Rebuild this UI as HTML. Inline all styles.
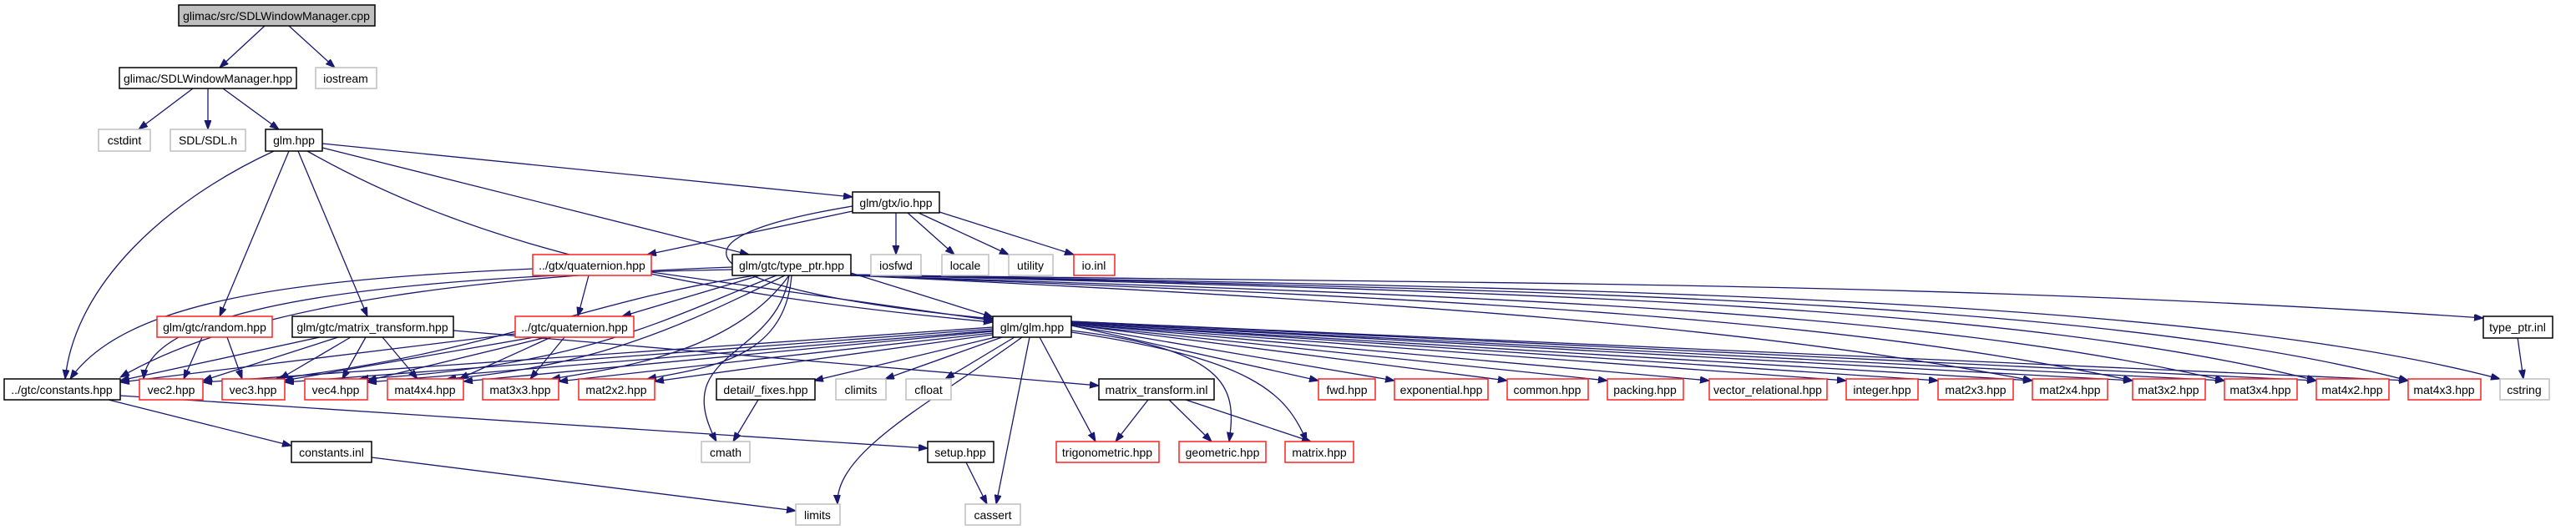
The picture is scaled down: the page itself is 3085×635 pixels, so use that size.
<!DOCTYPE html>
<html><head><meta charset="utf-8"><style>
html,body{margin:0;padding:0;background:#fff;}
svg{display:block;}
text{font-family:"Liberation Sans",Arial,sans-serif;font-size:14px;fill:#000;text-anchor:middle;}
.e{fill:none;stroke:#191970;stroke-width:1.3;marker-end:url(#a);}
.k{fill:#fff;stroke:#000;stroke-width:1.5;}
.r{fill:#fff;stroke:#ff2020;stroke-width:1.5;}
.g{fill:#fff;stroke:#bfbfbf;stroke-width:1.5;}
</style></head><body>
<svg width="3085" height="635" viewBox="0 0 3085 635" xmlns="http://www.w3.org/2000/svg">
<defs><marker id="a" markerUnits="userSpaceOnUse" markerWidth="12" markerHeight="9" refX="11" refY="4" orient="auto"><path d="M0,0 L11,4 L0,8 z" fill="#191970" stroke="#191970"/></marker></defs>
<g>
<path class="e" d="M317,31 L263,81"/>
<path class="e" d="M346,31 L401,81"/>
<path class="e" d="M231,106 L166,155"/>
<path class="e" d="M249,106 L249,155"/>
<path class="e" d="M267,106 L334,155"/>
<path class="e" d="M328,181 C200,240 90,340 78,454"/>
<path class="e" d="M346,181 L263,379"/>
<path class="e" d="M357,181 L440,379"/>
<path class="e" d="M368,181 C560,290 800,350 1189,386"/>
<path class="e" d="M386,172 L1021,236"/>
<path class="e" d="M386,177 L897,305"/>
<path class="e" d="M1021,247 C760,290 850,350 1189,382"/>
<path class="e" d="M1021,253 L775,305"/>
<path class="e" d="M1073,255 L1073,305"/>
<path class="e" d="M1087,255 L1143,305"/>
<path class="e" d="M1100,255 L1208,305"/>
<path class="e" d="M1125,254 L1286,305"/>
<path class="e" d="M705,330 L692,379"/>
<path class="e" d="M638,322 C350,335 150,360 84,454"/>
<path class="e" d="M780,326 L1189,384"/>
<path class="e" d="M877,323 C500,330 180,360 172,454"/>
<path class="e" d="M877,320 C600,330 300,360 144,452"/>
<path class="e" d="M910,330 L745,379"/>
<path class="e" d="M905,330 C700,360 600,420 330,454"/>
<path class="e" d="M930,330 C800,380 700,440 430,454"/>
<path class="e" d="M940,330 C800,400 700,440 535,454"/>
<path class="e" d="M945,330 C880,420 750,440 660,454"/>
<path class="e" d="M948,330 C940,430 850,440 775,454"/>
<path class="e" d="M945,330 C930,430 800,420 858,529"/>
<path class="e" d="M1019,329 C1700,340 2300,335 2974,381"/>
<path class="e" d="M1019,329 C1800,345 2600,350 2994,454"/>
<path class="e" d="M1019,329 C1800,348 2500,355 2884,456"/>
<path class="e" d="M1019,329 C1800,350 2400,362 2774,456"/>
<path class="e" d="M1019,330 C1800,355 2300,372 2664,456"/>
<path class="e" d="M1019,330 C1800,360 2200,382 2554,456"/>
<path class="e" d="M1019,330 C1700,362 2100,392 2434,456"/>
<path class="e" d="M1019,327 L1189,380"/>
<path class="e" d="M242,404 L220,454"/>
<path class="e" d="M272,404 L290,454"/>
<path class="e" d="M383,404 L144,456"/>
<path class="e" d="M405,404 L243,456"/>
<path class="e" d="M420,404 L335,454"/>
<path class="e" d="M438,404 L410,454"/>
<path class="e" d="M458,404 L500,454"/>
<path class="e" d="M543,396 L1316,462"/>
<path class="e" d="M617,400 L144,458"/>
<path class="e" d="M640,404 L340,456"/>
<path class="e" d="M655,404 L440,456"/>
<path class="e" d="M660,404 L550,454"/>
<path class="e" d="M676,404 L635,454"/>
<path class="e" d="M1189,392 L243,458"/>
<path class="e" d="M1189,394 L341,458"/>
<path class="e" d="M1189,396 L440,458"/>
<path class="e" d="M1189,397 L555,457"/>
<path class="e" d="M1189,399 L669,457"/>
<path class="e" d="M1189,401 L784,457"/>
<path class="e" d="M1192,404 L975,456"/>
<path class="e" d="M1200,404 L1060,454"/>
<path class="e" d="M1215,404 L1132,454"/>
<path class="e" d="M1224,404 C1120,480 1000,540 1003,604"/>
<path class="e" d="M1233,404 L1193,604"/>
<path class="e" d="M1245,404 L1312,529"/>
<path class="e" d="M1283,396 C1480,420 1480,470 1472,529"/>
<path class="e" d="M1283,398 C1500,430 1540,470 1565,529"/>
<path class="e" d="M1283,390 L1579,456"/>
<path class="e" d="M1283,390 L1670,456"/>
<path class="e" d="M1283,389 L1805,456"/>
<path class="e" d="M1283,389 L1925,456"/>
<path class="e" d="M1283,388 L2047,456"/>
<path class="e" d="M1283,388 L2211,456"/>
<path class="e" d="M1283,387 L2321,456"/>
<path class="e" d="M1283,387 L2434,456"/>
<path class="e" d="M1283,386 L2554,456"/>
<path class="e" d="M1283,386 L2664,456"/>
<path class="e" d="M1283,385 L2774,456"/>
<path class="e" d="M1283,385 L2884,456"/>
<path class="e" d="M130,479 L349,534"/>
<path class="e" d="M144,474 L1111,537"/>
<path class="e" d="M445,548 L953,612"/>
<path class="e" d="M908,479 L878,529"/>
<path class="e" d="M1157,554 L1182,604"/>
<path class="e" d="M1375,479 L1336,529"/>
<path class="e" d="M1400,479 L1451,529"/>
<path class="e" d="M1420,479 L1570,529"/>
<path class="e" d="M3015,404 L3022,454"/>
</g>
<g>
<rect x="214" y="6" width="235" height="25" fill="#bfbfbf" stroke="#000" stroke-width="1.5"/><text x="331" y="24">glimac/src/SDLWindowManager.cpp</text>
<rect class="k" x="143" y="81" width="212" height="25"/><text x="249" y="99">glimac/SDLWindowManager.hpp</text>
<rect class="g" x="378" y="81" width="73" height="25"/><text x="414" y="99">iostream</text>
<rect class="g" x="118" y="155" width="62" height="26"/><text x="149" y="173">cstdint</text>
<rect class="g" x="204" y="155" width="90" height="26"/><text x="249" y="173">SDL/SDL.h</text>
<rect class="k" x="318" y="155" width="68" height="26"/><text x="352" y="173">glm.hpp</text>
<rect class="k" x="1021" y="230" width="104" height="25"/><text x="1073" y="248">glm/gtx/io.hpp</text>
<rect class="r" x="638" y="305" width="142" height="25"/><text x="709" y="323">../gtx/quaternion.hpp</text>
<rect class="k" x="877" y="305" width="142" height="25"/><text x="948" y="323">glm/gtc/type_ptr.hpp</text>
<rect class="g" x="1043" y="305" width="60" height="25"/><text x="1073" y="323">iosfwd</text>
<rect class="g" x="1128" y="305" width="56" height="25"/><text x="1156" y="323">locale</text>
<rect class="g" x="1208" y="305" width="53" height="25"/><text x="1234" y="323">utility</text>
<rect class="r" x="1286" y="305" width="49" height="25"/><text x="1310" y="323">io.inl</text>
<rect class="r" x="188" y="379" width="138" height="25"/><text x="257" y="397">glm/gtc/random.hpp</text>
<rect class="k" x="350" y="379" width="193" height="25"/><text x="446" y="397">glm/gtc/matrix_transform.hpp</text>
<rect class="r" x="617" y="379" width="142" height="25"/><text x="688" y="397">../gtc/quaternion.hpp</text>
<rect class="k" x="1189" y="379" width="94" height="25"/><text x="1236" y="397">glm/glm.hpp</text>
<rect class="k" x="2974" y="379" width="83" height="26"/><text x="3015" y="397">type_ptr.inl</text>
<rect class="k" x="5" y="454" width="139" height="25"/><text x="74" y="472">../gtc/constants.hpp</text>
<rect class="r" x="167" y="454" width="76" height="25"/><text x="205" y="472">vec2.hpp</text>
<rect class="r" x="266" y="454" width="75" height="25"/><text x="303" y="472">vec3.hpp</text>
<rect class="r" x="365" y="454" width="75" height="25"/><text x="402" y="472">vec4.hpp</text>
<rect class="r" x="464" y="454" width="91" height="25"/><text x="509" y="472">mat4x4.hpp</text>
<rect class="r" x="578" y="454" width="91" height="25"/><text x="623" y="472">mat3x3.hpp</text>
<rect class="r" x="693" y="454" width="91" height="25"/><text x="738" y="472">mat2x2.hpp</text>
<rect class="k" x="858" y="454" width="118" height="25"/><text x="917" y="472">detail/_fixes.hpp</text>
<rect class="g" x="1001" y="454" width="60" height="25"/><text x="1031" y="472">climits</text>
<rect class="g" x="1085" y="454" width="54" height="25"/><text x="1112" y="472">cfloat</text>
<rect class="k" x="1316" y="454" width="138" height="25"/><text x="1385" y="472">matrix_transform.inl</text>
<rect class="r" x="1579" y="454" width="68" height="25"/><text x="1613" y="472">fwd.hpp</text>
<rect class="r" x="1670" y="454" width="112" height="25"/><text x="1726" y="472">exponential.hpp</text>
<rect class="r" x="1805" y="454" width="97" height="25"/><text x="1853" y="472">common.hpp</text>
<rect class="r" x="1925" y="454" width="91" height="25"/><text x="1970" y="472">packing.hpp</text>
<rect class="r" x="2047" y="454" width="141" height="25"/><text x="2117" y="472">vector_relational.hpp</text>
<rect class="r" x="2211" y="454" width="86" height="25"/><text x="2254" y="472">integer.hpp</text>
<rect class="r" x="2321" y="454" width="90" height="25"/><text x="2366" y="472">mat2x3.hpp</text>
<rect class="r" x="2434" y="454" width="90" height="25"/><text x="2479" y="472">mat2x4.hpp</text>
<rect class="r" x="2554" y="454" width="87" height="25"/><text x="2597" y="472">mat3x2.hpp</text>
<rect class="r" x="2664" y="454" width="87" height="25"/><text x="2707" y="472">mat3x4.hpp</text>
<rect class="r" x="2774" y="454" width="87" height="25"/><text x="2817" y="472">mat4x2.hpp</text>
<rect class="r" x="2884" y="454" width="87" height="25"/><text x="2927" y="472">mat4x3.hpp</text>
<rect class="g" x="2994" y="454" width="59" height="25"/><text x="3023" y="472">cstring</text>
<rect class="k" x="349" y="529" width="96" height="25"/><text x="397" y="547">constants.inl</text>
<rect class="g" x="840" y="529" width="58" height="25"/><text x="869" y="547">cmath</text>
<rect class="k" x="1111" y="529" width="79" height="25"/><text x="1150" y="547">setup.hpp</text>
<rect class="r" x="1265" y="529" width="123" height="25"/><text x="1326" y="547">trigonometric.hpp</text>
<rect class="r" x="1412" y="529" width="104" height="25"/><text x="1464" y="547">geometric.hpp</text>
<rect class="r" x="1539" y="529" width="82" height="25"/><text x="1580" y="547">matrix.hpp</text>
<rect class="g" x="953" y="604" width="53" height="25"/><text x="979" y="622">limits</text>
<rect class="g" x="1156" y="604" width="66" height="25"/><text x="1189" y="622">cassert</text>
</g>
</svg>
</body></html>
